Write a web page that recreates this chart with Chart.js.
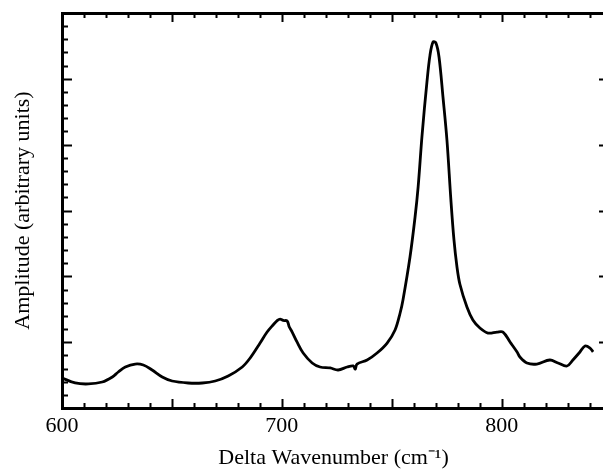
<!DOCTYPE html>
<html>
<head>
<meta charset="utf-8">
<script src="https://cdn.jsdelivr.net/npm/chart.js@4.4.1/dist/chart.umd.min.js"></script>
<style>
  html, body { margin: 0; padding: 0; background: #fff; overflow: hidden; }
</style>
</head>
<body>
<canvas id="spectrum" width="612" height="469"></canvas>
<script>
// wavenumber shift (cm-1)
var wavenumber = [
  600.1, 606.0, 612.0, 618.3, 622.9, 625.6, 628.8, 633.3, 637.0, 641.0,
  645.6, 650.1, 657.4, 663.8, 669.7, 675.6, 682.0, 685.6, 690.1, 693.3,
  696.0, 698.0, 699.2, 700.6, 702.4, 703.4, 704.7, 706.9, 709.7, 713.8,
  717.4, 722.0, 725.6, 729.7, 732.5, 733.4, 734.2, 738.8, 743.3, 747.9,
  751.5, 753.8, 755.1, 758.3, 760.6, 762.0, 763.8, 766.0, 767.4, 768.8,
  770.1, 771.5, 773.3, 775.1, 776.9, 778.3, 779.6, 781.0, 784.2, 786.9,
  790.1, 793.8, 797.9, 800.6, 803.8, 807.0, 808.3, 811.5, 816.0, 821.9,
  825.6, 829.7, 832.4, 835.6, 837.9, 840.2, 841.6
];
// amplitude (arbitrary units)
var amplitude = [
  0.456, 0.380, 0.365, 0.395, 0.471, 0.547, 0.623, 0.668, 0.653, 0.577,
  0.471, 0.410, 0.380, 0.380, 0.410, 0.486, 0.623, 0.760, 0.987, 1.154,
  1.261, 1.330, 1.350, 1.330, 1.322, 1.230, 1.154, 1.003, 0.835, 0.684,
  0.623, 0.608, 0.577, 0.623, 0.640, 0.590, 0.668, 0.729, 0.835, 0.987,
  1.185, 1.443, 1.641, 2.294, 2.901, 3.360, 4.150, 4.950, 5.360, 5.560,
  5.545, 5.332, 4.724, 4.071, 3.160, 2.552, 2.160, 1.880, 1.534, 1.337,
  1.215, 1.139, 1.154, 1.154, 1.003, 0.851, 0.775, 0.684, 0.668, 0.729,
  0.684, 0.638, 0.729, 0.851, 0.942, 0.911, 0.851
];

var xTickLabels = [600, 700, 800];
var xMinorStep = 10, xMajorStep = 50;
var yMinorStep = 0.2, yMajorStep = 1;
var xMin = 600, xMax = 847, yMin = 0, yMax = 6;

var points = wavenumber.map(function(w, i) { return { x: w, y: amplitude[i] }; });

var serif = "'Liberation Serif', 'Times New Roman', serif";

// tick marks pointing into the plot, like the original frame
var innerTicks = {
  id: 'innerTicks',
  afterDatasetsDraw: function(chart) {
    var ctx = chart.ctx, a = chart.chartArea;
    var xs = chart.scales.x, ys = chart.scales.y;
    ctx.save();
    ctx.strokeStyle = '#000';
    ctx.lineWidth = 2;
    ctx.beginPath();
    for (var v = xMin; v <= xMax + 1e-6; v += xMinorStep) {
      var px = Math.round(xs.getPixelForValue(v)) + 0.5;
      var major = Math.abs(v % xMajorStep) < 1e-6;
      var len = major ? 9 : 5;
      ctx.moveTo(px, a.bottom); ctx.lineTo(px, a.bottom - len);
      ctx.moveTo(px, a.top); ctx.lineTo(px, a.top + len);
    }
    for (var k = 0; k <= Math.round((yMax - yMin) / yMinorStep); k++) {
      var val = yMin + k * yMinorStep;
      var py = Math.round(ys.getPixelForValue(val)) + 0.5;
      var isMajor = k % Math.round(yMajorStep / yMinorStep) === 0;
      ctx.moveTo(a.left, py); ctx.lineTo(a.left + (isMajor ? 10 : 6), py);
      if (isMajor) { ctx.moveTo(a.right, py); ctx.lineTo(a.right - 6, py); }
    }
    ctx.stroke();
    ctx.restore();
  }
};

var chart = new Chart(document.getElementById('spectrum'), {
  type: 'scatter',
  data: {
    datasets: [{
      data: points,
      showLine: true,
      borderColor: '#000',
      borderWidth: 2.8,
      pointRadius: 0,
      tension: 0.35
    }]
  },
  options: {
    responsive: false,
    animation: false,
    events: [],
    layout: { padding: { right: 7 } },
    plugins: { legend: { display: false }, tooltip: { enabled: false } },
    scales: {
      x: {
        type: 'linear',
        position: 'bottom',
        min: xMin,
        max: xMax,
        afterFit: function(s) { s.height = 61; },
        grid: { display: false, drawTicks: false },
        border: { display: true, color: '#000', width: 3 },
        ticks: {
          stepSize: 100,
          autoSkip: false,
          maxRotation: 0,
          padding: 5,
          color: '#000',
          font: { family: serif, size: 22 },
          callback: function(value) {
            return xTickLabels.indexOf(value) >= 0 ? String(value) : '';
          }
        },
        title: {
          display: true,
          text: 'Delta Wavenumber (cm\u207B\u00B9)',
          color: '#000',
          font: { family: serif, size: 22, lineHeight: 1 },
          padding: { top: 0, bottom: 0 }
        }
      },
      x2: {
        type: 'linear',
        position: 'top',
        min: xMin,
        max: xMax,
        afterFit: function(s) { s.height = 13; },
        grid: { display: false, drawTicks: false },
        border: { display: true, color: '#000', width: 3 },
        ticks: { display: false }
      },
      y: {
        type: 'linear',
        position: 'left',
        min: yMin,
        max: yMax,
        afterFit: function(s) { s.width = 62; },
        grid: { display: false, drawTicks: false },
        border: { display: true, color: '#000', width: 3 },
        ticks: { display: false },
        title: {
          display: true,
          text: 'Amplitude (arbitrary units)',
          color: '#000',
          font: { family: serif, size: 22, lineHeight: 1 },
          padding: { top: 12, bottom: 0 }
        }
      }
    }
  },
  plugins: [innerTicks]
});
</script>
</body>
</html>
